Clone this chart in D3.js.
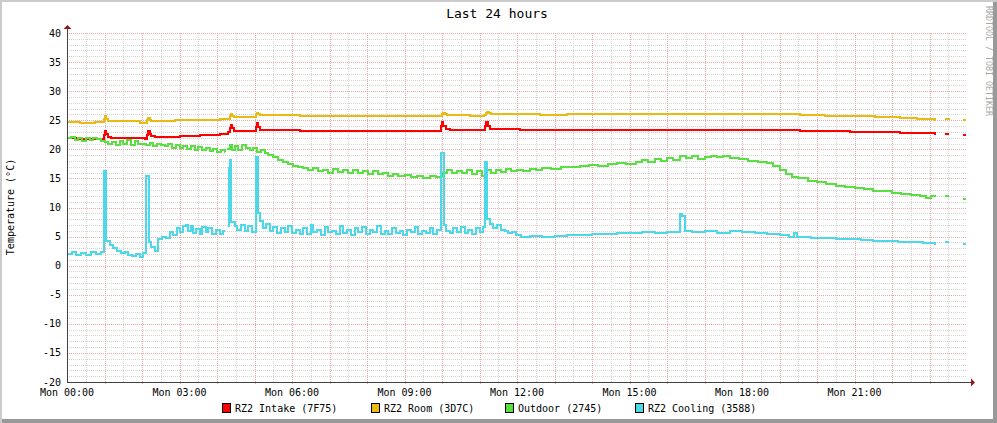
<!DOCTYPE html>
<html><head><meta charset="utf-8">
<script src="https://cdn.jsdelivr.net/npm/d3@7/dist/d3.min.js"></script>
<style>body{margin:0;background:#fff}svg{display:block}text{font-family:"DejaVu Sans Mono",monospace}</style>
</head><body><svg id="c" width="997" height="423"></svg>
<script>
// ---- data (time in minutes since Mon 00:00, value in °C; null = gap) ----
const xTickLabels = ["Mon 00:00","Mon 03:00","Mon 06:00","Mon 09:00","Mon 12:00","Mon 15:00","Mon 18:00","Mon 21:00"];
const yTicks = [40,35,30,25,20,15,10,5,0,-5,-10,-15,-20];
const seriesNames = ["RZ2 Intake (7F75)","RZ2 Room (3D7C)","Outdoor (2745)","RZ2 Cooling (3588)"];
const seriesColors = ["#ff0000","#e8ba12","#58e040","#4cd8e8"];

const intake = [[0,22.0],[21,21.8],[56,21.8],[59,22.5],[61,23.2],[63,22.7],[66,22.2],[70,21.9],[125,21.8],[128,22.5],[130,23.2],[132,22.7],[135,22.3],[141,22.1],[181,22.3],[213,22.5],[245,22.7],[258,22.9],[260,23.6],[262,24.2],[264,23.6],[267,23.2],[298,23.1],[302,23.8],[304,24.6],[306,23.9],[309,23.3],[373,23.2],[453,23.2],[533,23.1],[594,23.2],[598,24.0],[600,24.7],[602,24.0],[606,23.5],[613,23.3],[664,23.3],[668,24.0],[670,24.7],[673,24.0],[677,23.5],[725,23.3],[853,23.4],[1013,23.4],[1141,23.3],[1173,23.2],[1213,23.1],[1253,23.0],[1293,22.9],[1333,22.8],[1389,22.7],[1390,22.7],[1391,null],[1405,22.7],[1411,22.7],[1412,null],[1433,22.5],[1438,22.5]];

const room = [[0,24.7],[21,24.6],[45,24.7],[56,24.7],[59,25.2],[61,25.7],[63,25.3],[66,24.9],[85,24.8],[117,24.6],[125,24.6],[128,25.0],[130,25.4],[132,25.1],[134,24.9],[149,24.8],[173,25.0],[213,25.1],[245,25.2],[258,25.3],[260,25.7],[262,26.0],[264,25.7],[267,25.5],[293,25.5],[299,25.6],[302,26.0],[304,26.3],[306,26.1],[309,25.9],[373,25.8],[453,25.8],[533,25.7],[594,25.7],[600,26.0],[602,26.2],[605,26.0],[608,25.9],[645,25.8],[667,25.9],[670,26.2],[672,26.5],[675,26.2],[678,26.0],[757,25.9],[800,26.0],[933,26.0],[1013,26.0],[1093,26.0],[1173,25.9],[1213,25.8],[1253,25.7],[1293,25.5],[1333,25.4],[1360,25.2],[1389,25.1],[1390,25.1],[1391,null],[1405,25.2],[1411,25.1],[1412,null],[1433,25.1],[1438,25.1]];

const outdoor = [[0,21.9],[6,22.1],[12,21.6],[18,22.0],[24,21.5],[30,21.9],[36,21.6],[42,22.0],[48,21.7],[54,21.4],[60,21.2],[66,20.9],[72,21.3],[78,20.8],[84,21.4],[90,20.9],[96,21.6],[102,20.8],[108,21.5],[114,20.9],[120,21.0],[126,20.7],[132,21.1],[138,20.6],[144,21.0],[150,20.7],[156,20.5],[162,20.9],[168,20.3],[174,20.8],[180,20.2],[186,20.6],[192,20.1],[198,20.5],[204,19.9],[210,20.4],[216,19.8],[222,20.2],[228,19.7],[234,20.1],[240,19.6],[246,19.9],[252,19.6],[253,19.6],[254,null],[256,20.0],[260,20.8],[264,19.8],[268,20.6],[274,19.9],[280,20.7],[286,20.2],[292,19.8],[298,20.3],[304,19.5],[310,19.9],[316,19.4],[322,19.0],[330,18.7],[338,18.2],[346,17.8],[354,17.5],[362,17.2],[370,17.0],[378,16.8],[386,16.4],[394,16.8],[402,16.2],[410,16.5],[418,16.0],[426,16.6],[434,16.1],[442,16.4],[450,15.9],[458,16.5],[466,16.0],[474,16.3],[482,15.8],[490,16.2],[498,15.7],[506,16.0],[514,15.5],[522,15.8],[530,15.4],[540,15.6],[550,15.2],[560,15.5],[570,15.1],[580,15.4],[590,15.2],[600,16.0],[608,16.4],[616,15.9],[624,16.3],[632,16.0],[640,16.5],[648,15.8],[656,16.2],[664,15.5],[670,16.4],[678,16.0],[686,16.5],[694,16.1],[702,16.6],[710,16.2],[720,16.5],[730,16.3],[740,16.7],[750,16.5],[760,16.8],[775,16.7],[790,17.0],[805,16.9],[820,17.2],[835,17.3],[850,17.2],[865,17.5],[880,17.6],[895,17.5],[910,17.9],[920,18.1],[930,17.8],[940,18.3],[950,18.0],[960,18.5],[970,18.2],[980,18.8],[990,18.5],[1000,18.9],[1010,18.4],[1020,18.6],[1030,18.9],[1040,18.7],[1050,18.8],[1060,18.5],[1075,18.3],[1090,18.0],[1105,17.9],[1120,17.6],[1130,17.2],[1140,16.5],[1150,15.8],[1160,15.3],[1170,15.0],[1185,14.6],[1200,14.3],[1215,14.1],[1230,13.7],[1245,13.5],[1260,13.3],[1275,13.2],[1290,12.9],[1305,12.8],[1320,12.5],[1335,12.4],[1350,12.1],[1365,11.9],[1375,11.6],[1383,11.9],[1390,11.9],[1391,null],[1405,11.9],[1411,11.9],[1412,null],[1433,11.5],[1438,11.5]];

const cooling = [[0,2.0],[8,2.3],[14,1.9],[22,2.2],[30,1.8],[38,2.3],[46,2.0],[54,2.4],[59,16.2],[63,4.2],[68,3.6],[74,3.0],[80,2.6],[86,2.2],[92,2.4],[98,1.9],[104,1.7],[110,2.0],[116,1.5],[122,2.1],[126,15.5],[131,4.0],[135,3.2],[140,2.6],[146,4.6],[152,5.0],[158,4.8],[164,5.8],[170,5.2],[176,6.4],[180,5.8],[186,6.9],[190,7.0],[194,6.0],[198,6.8],[202,5.6],[206,6.3],[212,5.4],[216,6.6],[222,5.8],[226,6.4],[232,5.5],[238,6.2],[244,5.4],[250,6.0],[253,6.0],[254,null],[258,6.8],[259,16.8],[260,18.2],[263,7.5],[268,6.8],[272,6.2],[278,7.0],[284,6.0],[290,6.8],[296,5.8],[302,18.6],[305,9.0],[308,7.6],[314,6.5],[318,7.2],[324,6.0],[330,6.6],[336,5.6],[342,6.4],[348,5.8],[354,6.8],[360,5.6],[366,6.2],[372,5.4],[378,6.4],[384,5.5],[390,7.0],[394,5.8],[400,6.2],[406,5.2],[412,6.6],[418,5.8],[424,6.0],[430,5.4],[436,6.8],[442,5.6],[448,6.2],[454,5.2],[460,6.4],[466,5.8],[472,6.6],[478,5.4],[484,6.2],[490,5.8],[496,6.9],[502,5.5],[508,6.0],[514,5.4],[520,6.5],[526,5.6],[532,6.0],[538,5.3],[544,6.2],[550,5.8],[556,6.6],[562,5.4],[568,6.0],[574,5.6],[580,6.4],[586,5.5],[592,6.2],[598,19.3],[603,7.0],[607,6.0],[612,5.6],[618,6.4],[624,5.8],[630,6.6],[636,5.6],[642,6.2],[648,5.4],[654,6.4],[660,5.8],[666,6.6],[669,17.8],[672,8.0],[676,7.2],[682,6.4],[688,7.0],[694,6.2],[700,6.0],[706,5.6],[712,5.8],[718,5.3],[726,5.0],[740,5.1],[760,4.9],[780,5.1],[800,5.3],[820,5.2],[840,5.5],[860,5.4],[880,5.7],[900,5.6],[920,5.8],[940,5.7],[960,5.8],[980,8.8],[984,8.5],[988,6.0],[1000,5.8],[1020,5.9],[1040,5.7],[1060,5.9],[1080,5.8],[1100,5.6],[1120,5.5],[1140,5.3],[1155,4.9],[1163,5.6],[1168,4.9],[1190,4.8],[1210,4.7],[1230,4.6],[1250,4.5],[1270,4.4],[1290,4.3],[1310,4.2],[1330,4.1],[1350,4.0],[1370,3.9],[1389,3.8],[1390,3.8],[1391,null],[1405,4.0],[1411,4.0],[1412,null],[1433,3.8],[1438,3.8]];

const seriesData = [intake, room, outdoor, cooling];
const drawOrder = [1, 0, 2, 3];

// ---- layout ----
const svg = d3.select("#c");
const W = 997, H = 423;
const L = 67, R = 967, T = 33, B = 382;
const x = d3.scaleLinear().domain([0, 1440]).range([L, R]);
const y = d3.scaleLinear().domain([-20, 40]).range([B, T]);

// frame
svg.append("rect").attr("x",0).attr("y",0).attr("width",W).attr("height",H).attr("fill","#cbcbcb");
svg.append("rect").attr("x",2).attr("y",2).attr("width",W-2).attr("height",H-2).attr("fill","#999999");
svg.append("rect").attr("x",2).attr("y",2).attr("width",W-6).attr("height",H-6).attr("fill","#ffffff");

const g = svg.append("g");
// minor grid
const minorY = d3.range(-19, 40).filter(v => v % 5 !== 0);
g.selectAll(".mhy").data(minorY).join("line")
  .attr("x1",L).attr("x2",R).attr("y1",d=>Math.round(y(d))+0.5).attr("y2",d=>Math.round(y(d))+0.5)
  .attr("stroke","#d4d4d4").attr("stroke-dasharray","1,1");
const minorX = d3.range(30, 1440, 60);
g.selectAll(".mvx").data(minorX).join("line")
  .attr("y1",T).attr("y2",B).attr("x1",d=>Math.round(x(d))+0.5).attr("x2",d=>Math.round(x(d))+0.5)
  .attr("stroke","#d4d4d4").attr("stroke-dasharray","1,1");
// major grid
g.selectAll(".Mhy").data(yTicks.filter(v=>v>-20)).join("line")
  .attr("x1",L).attr("x2",R).attr("y1",d=>Math.round(y(d))+0.5).attr("y2",d=>Math.round(y(d))+0.5)
  .attr("stroke","#eaa8a8").attr("stroke-dasharray","1,1");
const majorX = d3.range(60, 1440, 60);
g.selectAll(".Mvx").data(majorX).join("line")
  .attr("y1",T).attr("y2",B+2).attr("x1",d=>Math.round(x(d))+0.5).attr("x2",d=>Math.round(x(d))+0.5)
  .attr("stroke","#eaa8a8").attr("stroke-dasharray","1,1");

// y labels
g.selectAll(".yl").data(yTicks).join("text")
  .attr("x",L-6).attr("y",d=>y(d)+3.5).attr("text-anchor","end")
  .attr("font-size",10).attr("fill","#000").text(d=>d);
// x labels
g.selectAll(".xl").data(xTickLabels).join("text")
  .attr("x",(d,i)=>x(i*180)).attr("y",B+14).attr("text-anchor","middle")
  .attr("font-size",10).attr("fill","#000").text(d=>d);

// series
const line = d3.line().defined(d=>d[1]!==null).x(d=>x(d[0])).y(d=>y(d[1])).curve(d3.curveStepAfter);
drawOrder.forEach(i => {
  svg.append("path").datum(seriesData[i]).attr("d", line)
    .attr("fill","none").attr("stroke",seriesColors[i]).attr("stroke-width",2)
    .attr("stroke-linejoin","miter").attr("shape-rendering","crispEdges");
});

// axes lines
svg.append("line").attr("x1",L).attr("x2",971).attr("y1",B+0.5).attr("y2",B+0.5).attr("stroke","#404040");
svg.append("line").attr("x1",L+0.5).attr("x2",L+0.5).attr("y1",B).attr("y2",T-4).attr("stroke","#404040");
svg.append("path").attr("d",`M${971},${B-3.5} L${975},${B+0.5} L${971},${B+4.5} Z`).attr("fill","#8b1a1a");
svg.append("path").attr("d",`M${L-3.5},${T-4} L${L+0.5},${T-8} L${L+4.5},${T-4} Z`).attr("fill","#8b1a1a");

// title
svg.append("text").attr("x",497).attr("y",18).attr("text-anchor","middle")
  .attr("font-size",13).attr("fill","#000").text("Last 24 hours");
// y-axis title
svg.append("text").attr("transform","translate(14,207) rotate(-90)").attr("text-anchor","middle")
  .attr("font-size",10).attr("fill","#000").text("Temperature (°C)");
// watermark
svg.append("text").attr("transform","translate(986,6) rotate(90)").attr("text-anchor","start")
  .attr("font-size",8.3).attr("fill","#a8a8a8").text("RRDTOOL / TOBI OETIKER");

// legend
const legX = [222, 371, 505, 635];
const leg = svg.append("g");
seriesNames.forEach((n,i)=>{
  leg.append("rect").attr("x",legX[i]+0.5).attr("y",403.5).attr("width",8).attr("height",9)
    .attr("fill",seriesColors[i]).attr("stroke","#000");
  leg.append("text").attr("x",legX[i]+13).attr("y",412).attr("font-size",10).attr("fill","#000").text(n);
});
</script></body></html>
